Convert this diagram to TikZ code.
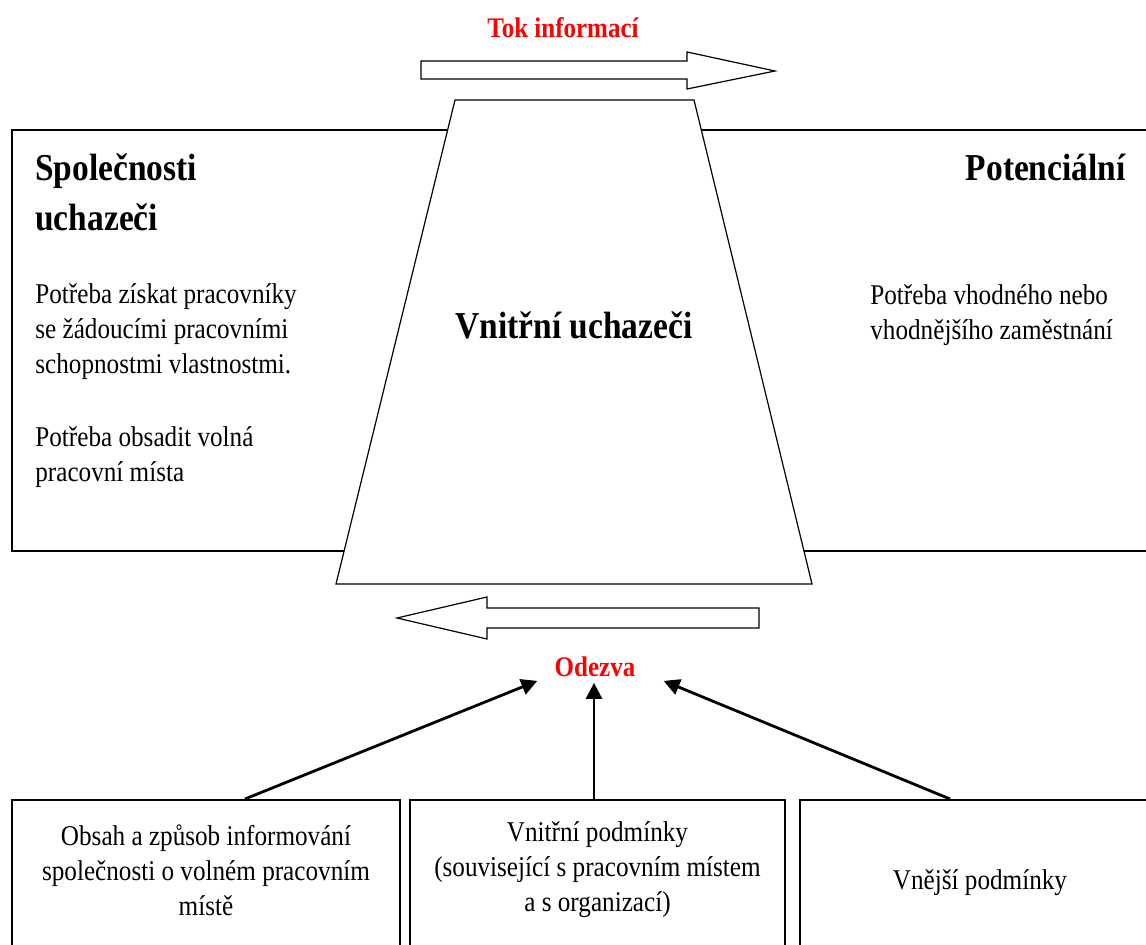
\documentclass[tikz,border=0pt]{standalone}
\usepackage{fontspec}
\setmainfont{Liberation Serif}[FakeStretch=0.88]
\usetikzlibrary{arrows.meta, calc}

\begin{document}
\begin{tikzpicture}[
  x=0.5pt, y=-0.5pt,
  frame/.style = {draw, line width=1pt},
  outline/.style = {draw, line width=0.6pt, fill=white},
  heading/.style = {inner sep=0pt, align=left, font=\fontsize{19}{25}\selectfont\bfseries},
  body/.style = {inner sep=0pt, align=left, font=\fontsize{14.3}{17.5}\selectfont},
  flow/.style = {inner sep=0pt, text=red, font=\fontsize{14.2}{17}\selectfont\bfseries},
  condbox/.style = {draw, line width=1pt, minimum height=100pt},
  condtext/.style = {inner sep=0pt, align=center, font=\fontsize{14.3}{17.5}\selectfont},
  arrow/.style = {line width=1.4pt, -{Triangle[length=8pt, width=8pt]}}
]
\clip (0,0) rectangle (1146,945);

% Outer frame
\draw[frame] (12,130) rectangle (1160,551);

% Trapezoid in the middle
\draw[outline] (455,100) -- (694,100) -- (812,584) -- (336,584) -- cycle;

% Block arrows
\draw[outline] (421,61) -- (687,61) -- (687,52) -- (775,71) -- (687,89) -- (687,79) -- (421,79) -- cycle;
\draw[outline] (759,608) -- (487,608) -- (487,597) -- (397,618) -- (487,639) -- (487,628) -- (759,628) -- cycle;

% Flow labels
\node[flow] (tok) at (563,28) {Tok informací};
\node[flow] (odezva) at (595,667) {Odezva};

% Headings
\node[heading, anchor=west] (spol) at (35,192) {Společnosti\\uchazeči};
\node[heading, anchor=east] (poten) at (1126,167) {Potenciální};
\node[heading] (vnitrni) at (574,325) {Vnitřní uchazeči};

% Needs
\node[body, anchor=west] (potreba1) at (35,332) {Potřeba získat pracovníky\\se žádoucími pracovními\\schopnostmi vlastnostmi.};
\node[body, anchor=west] (potreba2) at (35,457) {Potřeba obsadit volná\\pracovní místa};
\node[body, anchor=west] (potreba3) at (870,315) {Potřeba vhodného nebo\\vhodnějšího zaměstnání};

% Condition boxes
\node[condbox, minimum width=194pt] (obsahbox) at (206,900) {};
\node[condbox, minimum width=187.5pt] (podmbox) at (597.5,900) {};
\node[condbox, minimum width=180pt] (vnejbox) at (980,900) {};

\node[condtext] (obsah) at (206,870) {Obsah a způsob informování\\společnosti o volném pracovním\\místě};
\node[condtext] (podminky) at (597.5,870) {Vnitřní podmínky\\(související s pracovním místem\\a s organizací)};
\node[condtext] (vnejsi) at (980,883) {Vnější podmínky};

% Arrows to the response
\draw[arrow] ($(obsahbox.north)+(39,0)$) -- ($(odezva.south west)+(-17,3.5)$);
\draw[arrow] ($(podmbox.north)+(-3.5,0)$) -- ($(odezva.south)+(-1,5.5)$);
\draw[arrow] ($(vnejbox.north)+(-30,0)$) -- ($(odezva.south east)+(28,3.5)$);

\end{tikzpicture}
\end{document}
